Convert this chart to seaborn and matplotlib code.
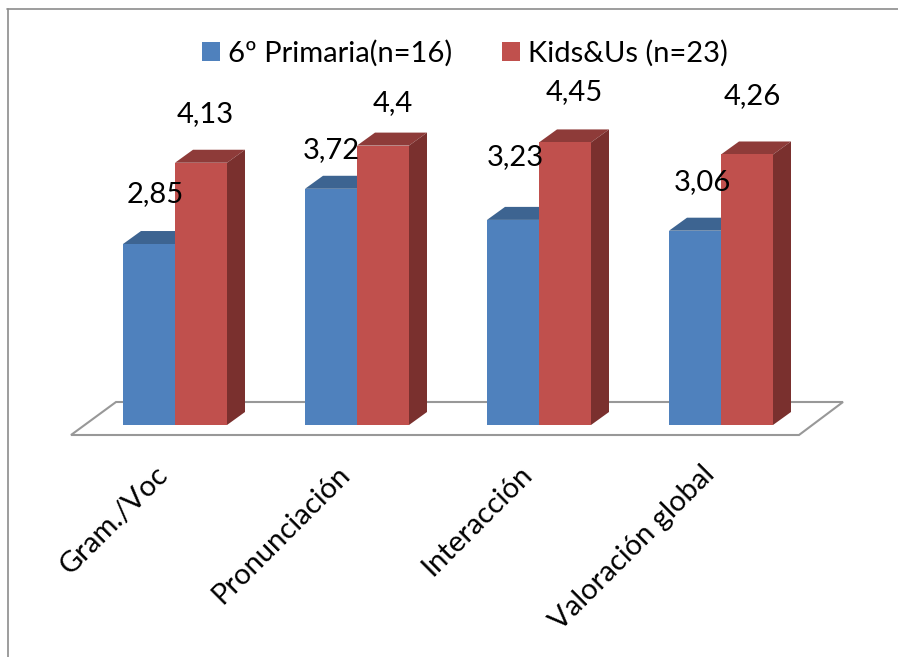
import pandas as pd
import seaborn as sns
import matplotlib.pyplot as plt
from matplotlib.lines import Line2D
from matplotlib.patches import Polygon
from matplotlib.transforms import ScaledTranslation

# Data
categorias = ['Gram./Voc', 'Pronunciación', 'Interacción', 'Valoración global']
primaria = [2.85, 3.72, 3.23, 3.06]
kids = [4.13, 4.4, 4.45, 4.26]
etiquetas_primaria = ['2,85', '3,72', '3,23', '3,06']
etiquetas_kids = ['4,13', '4,4', '4,45', '4,26']
grupos = ['6º Primaria(n=16)', 'Kids&Us (n=23)']

# label offsets from the bar top, pixels (Excel placed them unevenly)
offset_primaria = [(6, 50), (0, 39), (2, 63), (7, 49)]
offset_kids = [(4, 49), (10, 43), (9, 50), (5, 58)]

df = pd.DataFrame({
    'categoria': categorias * 2,
    'valor': primaria + kids,
    'grupo': [grupos[0]] * 4 + [grupos[1]] * 4,
})

sns.set_theme(style='white')
plt.rcParams['font.family'] = ['Lato', 'DejaVu Sans']
plt.rcParams['text.color'] = 'black'
FS = 21

W, H = 898, 657
BASE = 425       # pixel row of the bar bottoms
PX_X = 182.0     # pixels per category
PX_Y = 63.5      # pixels per value unit
DX, DY = 18 / PX_X, 13 / PX_Y   # depth of the fake 3d

fig = plt.figure(figsize=(W / 100, H / 100), dpi=100)
ax = fig.add_axes([0, (H - BASE) / H, 1, BASE / H])
ax.patch.set_alpha(0)

sns.barplot(data=df, x='categoria', y='valor', hue='grupo',
            palette=['#4f81bd', '#c0504d'], width=52 * 2 / PX_X, gap=0,
            saturation=1, linewidth=0, ax=ax)

ax.set_xlim(-175 / PX_X, (W - 175) / PX_X)
ax.set_ylim(0, BASE / PX_Y)
sns.despine(ax=ax, left=True, bottom=True)
ax.set_xlabel('')
ax.set_ylabel('')
ax.set_yticks([])
ax.tick_params(axis='x', length=0, pad=26, labelcolor='black')
plt.setp(ax.get_xticklabels(), rotation=45, ha='right', rotation_mode='anchor', fontsize=FS)
mover = ScaledTranslation(-20 / 100, 0, fig.dpi_scale_trans)
for lab in ax.get_xticklabels():
    lab.set_transform(lab.get_transform() + mover)

# floor
suelo = [(-104 / PX_X, -10 / PX_Y), (624 / PX_X, -10 / PX_Y),
         (668 / PX_X, 23 / PX_Y), (-59 / PX_X, 23 / PX_Y)]
ax.add_patch(Polygon(suelo, closed=True, facecolor='white', edgecolor='#989898',
                     linewidth=1.5, clip_on=False, zorder=0.5))

# top and side faces
colores = [('#3d6491', '#3d6491'), ('#8e3b39', '#7a302e')]
for cont, (c_top, c_side) in zip(ax.containers, colores):
    for b in cont:
        x0, x1, h = b.get_x(), b.get_x() + b.get_width(), b.get_height()
        ax.add_patch(Polygon([(x0, h), (x1, h), (x1 + DX, h + DY), (x0 + DX, h + DY)],
                             facecolor=c_top, linewidth=0, zorder=b.get_zorder() - 0.1))
        ax.add_patch(Polygon([(x1, 0), (x1 + DX, DY), (x1 + DX, h + DY), (x1, h)],
                             facecolor=c_side, linewidth=0, zorder=b.get_zorder() - 0.1))

# red bars go above the blue ones, so the blue top gets cut off
for b in ax.containers[1]:
    b.set_zorder(b.get_zorder() + 0.5)

# data labels
for cont, textos, offs in zip(ax.containers, [etiquetas_primaria, etiquetas_kids],
                              [offset_primaria, offset_kids]):
    for b, t, off in zip(cont, textos, offs):
        ax.annotate(t, (b.get_x() + b.get_width() / 2, b.get_height()), xytext=off,
                    textcoords='offset pixels', ha='center', va='center',
                    fontsize=FS, color='black', zorder=10, annotation_clip=False)

handles, labels = ax.get_legend_handles_labels()
leg = ax.legend(handles, labels, ncol=2, frameon=False, fontsize=FS, loc='center',
                bbox_to_anchor=(465 / W, (BASE - 53) / BASE), handlelength=0.62,
                handleheight=0.62, handletextpad=0.28, columnspacing=1.7)
for t in leg.get_texts():
    t.set_color('black')

# chart border (only left and top survive the crop)
fig.add_artist(Line2D([7.5 / W, 7.5 / W], [0, 1 - 8.5 / H], color='#8c8c8c', lw=1.2))
fig.add_artist(Line2D([7 / W, 1], [1 - 8.5 / H, 1 - 8.5 / H], color='#8c8c8c', lw=1.2))

fig.savefig('out.png', dpi=100)
